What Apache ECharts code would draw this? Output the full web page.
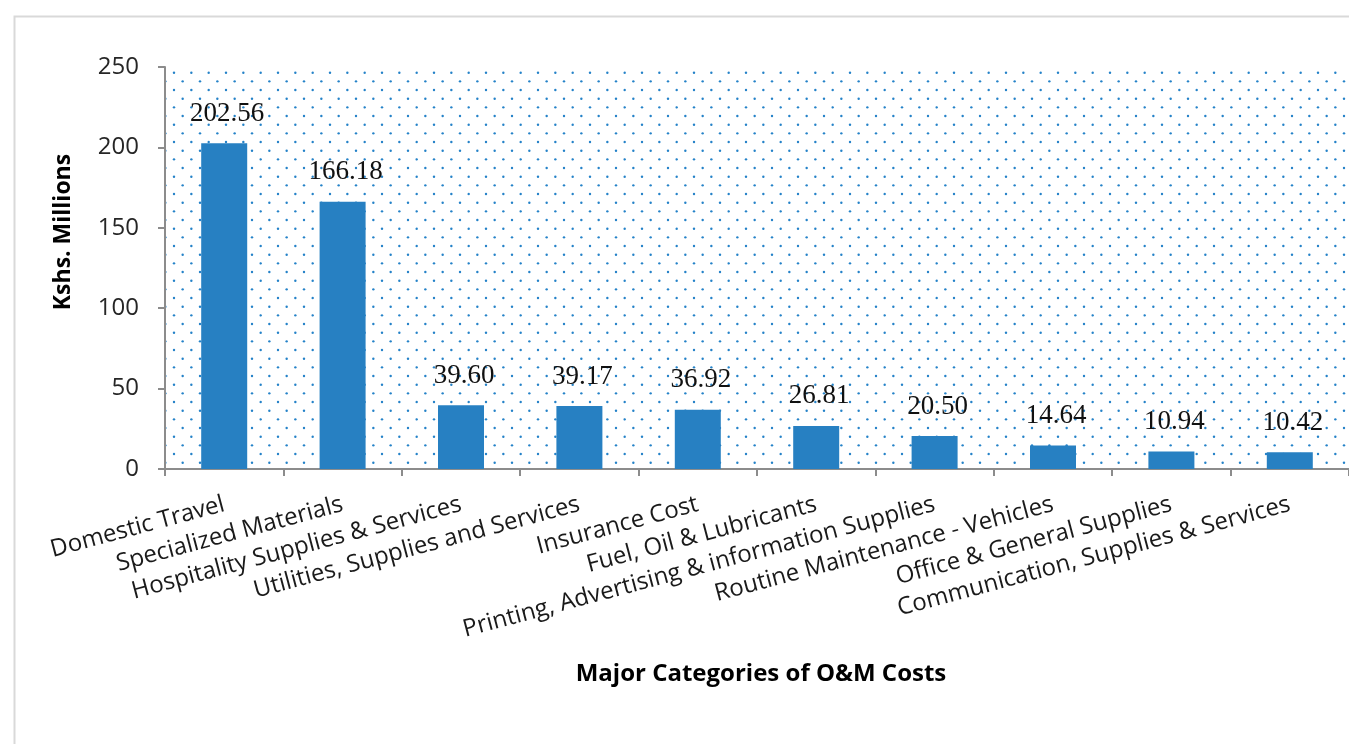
<!DOCTYPE html>
<html>
<head>
<meta charset="utf-8">
<title>Major Categories of O&amp;M Costs</title>
<script src="https://cdn.jsdelivr.net/npm/echarts@6/dist/echarts.min.js"></script>
<style>
  html, body { margin: 0; padding: 0; background: #ffffff; }
  #chart { width: 1349px; height: 744px; }
</style>
</head>
<body>
<div id="chart"></div>
<script>
// O&M cost categories and amounts (Kshs. Millions)
const categories = [
  'Domestic Travel',
  'Specialized Materials',
  'Hospitality Supplies & Services',
  'Utilities, Supplies and Services',
  'Insurance Cost',
  'Fuel, Oil & Lubricants',
  'Printing, Advertising & information Supplies',
  'Routine Maintenance - Vehicles',
  'Office & General Supplies',
  'Communication, Supplies & Services'
];
const amounts = [202.56, 166.18, 39.60, 39.17, 36.92, 26.81, 20.50, 14.64, 10.94, 10.42];
const yTicks = { min: 0, max: 250, interval: 50 };

// Dotted fill for the plot area (two staggered dots per tile)
function makeDotPattern() {
  const period = 52 / 3;
  const c = document.createElement('canvas');
  c.width = 52;
  c.height = 52;
  const ctx = c.getContext('2d');
  ctx.fillStyle = 'rgb(36,130,200)';
  const offs = [[0.67, 3.37], [0.67 + period / 2, 3.37 + period / 2]];
  for (let i = -1; i < 4; i++) {
    for (let j = -1; j < 4; j++) {
      offs.forEach(([ox, oy]) => {
        ctx.beginPath();
        ctx.arc(ox + i * period, oy + j * period, 1.2, 0, Math.PI * 2);
        ctx.fill();
      });
    }
  }
  return c;
}

const chart = echarts.init(document.getElementById('chart'), null, { renderer: 'canvas' });

chart.setOption({
  backgroundColor: '#ffffff',
  animation: false,
  grid: {
    left: 165,
    top: 67,
    width: 1190,
    height: 402,
    show: true,
    borderWidth: 0,
    backgroundColor: { image: makeDotPattern(), repeat: 'repeat' }
  },
  graphic: [
    {
      type: 'rect',
      left: 12, top: 14,
      shape: { width: 1400, height: 800 },
      style: { fill: 'none', stroke: '#d9d9d9', lineWidth: 2 },
      silent: true
    },
    {
      type: 'text',
      x: 63, y: 232,
      rotation: Math.PI / 2,
      style: {
        text: 'Kshs. Millions',
        fontFamily: 'Open Sans',
        fontWeight: 'bold',
        fontSize: 23,
        fill: '#000000',
        align: 'center',
        verticalAlign: 'middle'
      }
    },
    {
      type: 'text',
      x: 761, y: 674,
      style: {
        text: 'Major Categories of O&M Costs',
        fontFamily: 'Open Sans',
        fontWeight: 'bold',
        fontSize: 24,
        fill: '#000000',
        align: 'center',
        verticalAlign: 'middle'
      }
    }
  ],
  xAxis: {
    type: 'category',
    data: categories,
    axisLine: { show: true, lineStyle: { color: '#8c8c8c', width: 2 } },
    axisTick: { show: true, length: 7, lineStyle: { color: '#8c8c8c', width: 2 } },
    axisLabel: {
      interval: 0,
      rotate: 15,
      margin: 35,
      fontFamily: 'Open Sans',
      fontSize: 24,
      color: '#1a1a1a'
    },
    splitLine: { show: false }
  },
  yAxis: {
    type: 'value',
    min: yTicks.min,
    max: yTicks.max,
    interval: yTicks.interval,
    axisLine: { show: true, lineStyle: { color: '#8c8c8c', width: 2 } },
    axisTick: { show: true, length: 7, lineStyle: { color: '#8c8c8c', width: 2 } },
    axisLabel: {
      margin: 26,
      fontFamily: 'Open Sans',
      fontSize: 24,
      color: '#262626'
    },
    splitLine: { show: false }
  },
  series: [
    {
      type: 'bar',
      data: amounts,
      barWidth: 46,
      itemStyle: { color: '#2780c2' },
      label: {
        show: true,
        position: 'top',
        distance: 16,
        offset: [3, 0],
        formatter: (p) => p.value.toFixed(2),
        fontFamily: 'Liberation Serif',
        fontSize: 27,
        color: '#111111'
      }
    }
  ]
});
</script>
</body>
</html>
